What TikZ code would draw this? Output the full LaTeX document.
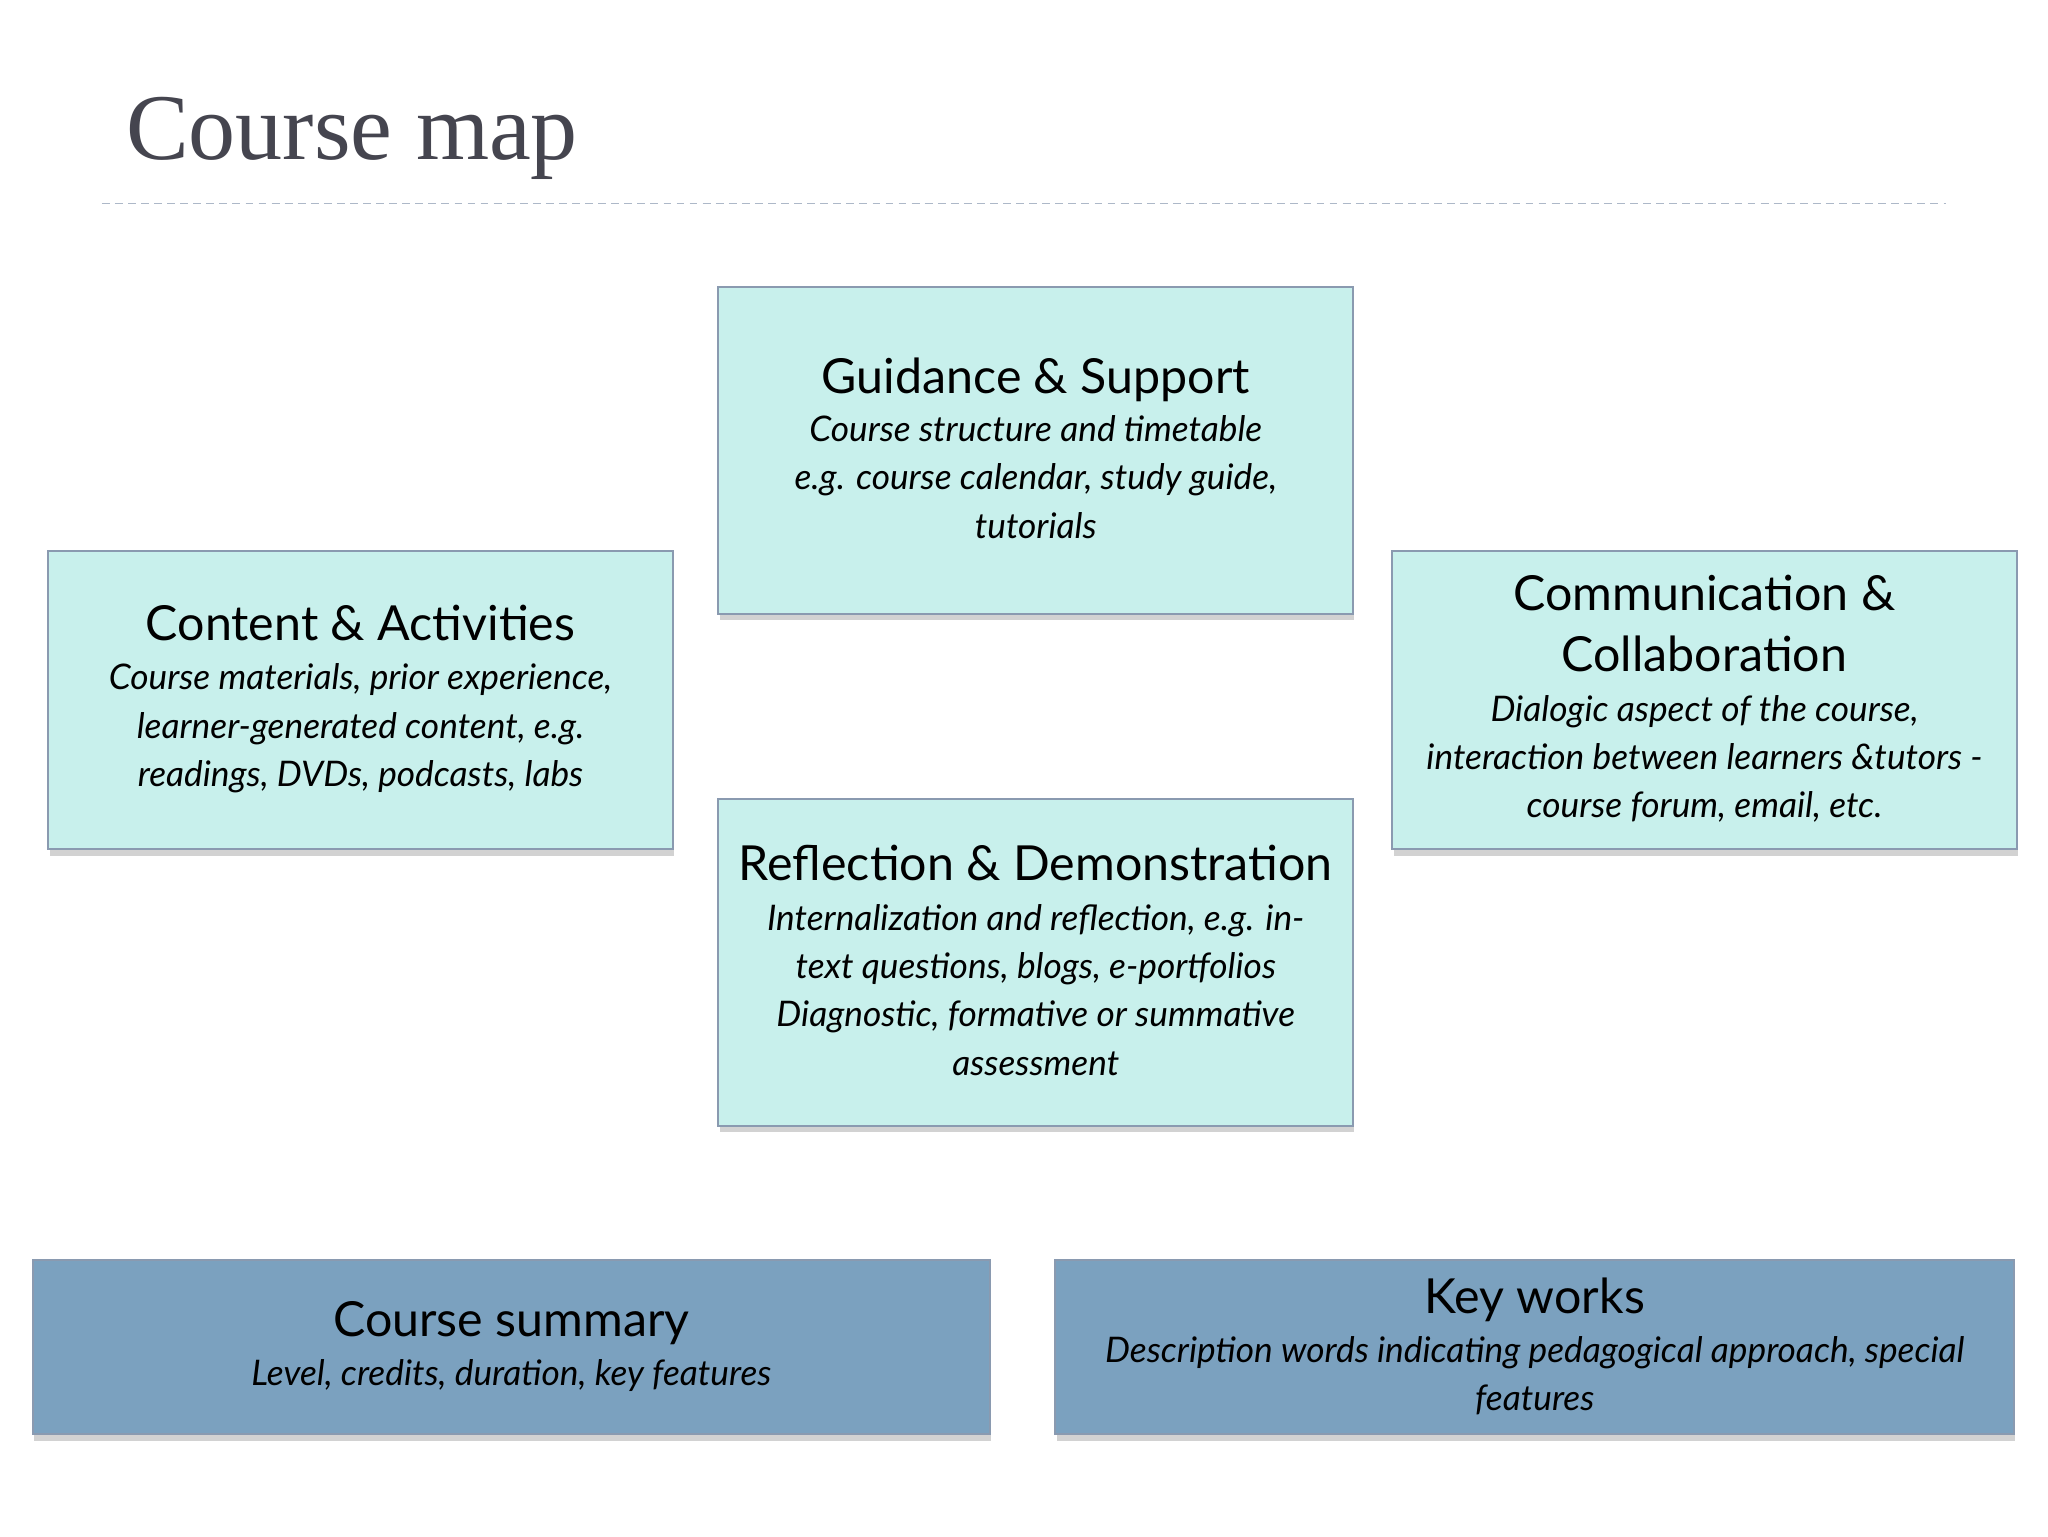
\documentclass[tikz,border=0pt]{standalone}
\usepackage{fontspec}
\setmainfont{Lato}
\newfontfamily\titlefont{Liberation Serif}
\usetikzlibrary{shadows}
\definecolor{lightbox}{HTML}{C8F0EC}
\definecolor{darkbox}{HTML}{7BA1BF}
\definecolor{edge}{HTML}{8A9AB0}
\definecolor{ttl}{HTML}{45454F}
\tikzset{
 box/.style={draw=edge,line width=1.5pt,fill=lightbox,drop shadow={shadow xshift=1pt,shadow yshift=-5pt,opacity=0.35},align=center,inner sep=0pt},
 dbox/.style={box,fill=darkbox},
 hd/.style={align=center,anchor=north,inner sep=0pt,font=\fontsize{37}{47}\selectfont},
 bd/.style={align=center,anchor=north,inner sep=0pt,font=\fontsize{27}{37}\selectfont\itshape}
}
\begin{document}
\begin{tikzpicture}[x=1pt,y=-1pt]
\useasboundingbox[fill=white] (0,0) rectangle (1568,1176);
\node[anchor=base west,text=ttl,font=\titlefont\fontsize{72}{80}\selectfont] (title) at (93,122) {Course map};
\coordinate (l1) at (78,156); \coordinate (l2) at (1490,156);
\draw[edge!70,line width=1pt,dash pattern=on 6pt off 4pt] (l1) -- (l2);
\node[box,minimum width=486,minimum height=250] (g) at (793,345) {};
\node[box,minimum width=478,minimum height=228] (c) at (276,536) {};
\node[box,minimum width=478,minimum height=228] (m) at (1305,536) {};
\node[box,minimum width=486,minimum height=250] (r) at (793,737) {};
\node[dbox,minimum width=733,minimum height=133] (s) at (391.5,1031.5) {};
\node[dbox,minimum width=734,minimum height=133] (k) at (1175,1031.5) {};
\node[hd] (gh) at (793,274) {Guidance \& Support};
\node[bd] (gb) at (793,318) {Course structure and timetable\\ e.g. course calendar, study guide,\\ tutorials};
\node[hd] (ch) at (276,463) {Content \& Activities};
\node[bd] (cb) at (276,508) {Course materials, prior experience,\\ learner-generated content, e.g.\\ readings, DVDs, podcasts, labs};
\node[hd] (mh) at (1305,440) {Communication \&\\ Collaboration};
\node[bd] (mb) at (1305,532) {Dialogic aspect of the course,\\ interaction between learners \&tutors -\\ course forum, email, etc.};
\node[hd] (rh) at (793,647) {Reflection \& Demonstration};
\node[bd] (rb) at (793,692) {Internalization and reflection, e.g. in-\\ text questions, blogs, e-portfolios\\ Diagnostic, formative or summative\\ assessment};
\node[hd] (sh) at (391.5,996) {Course summary};
\node[bd] (sb) at (391.5,1041) {Level, credits, duration, key features};
\node[hd] (kh) at (1175,978) {Key works};
\node[bd] (kb) at (1175,1023) {Description words indicating pedagogical approach, special\\ features};
\end{tikzpicture}
\end{document}
